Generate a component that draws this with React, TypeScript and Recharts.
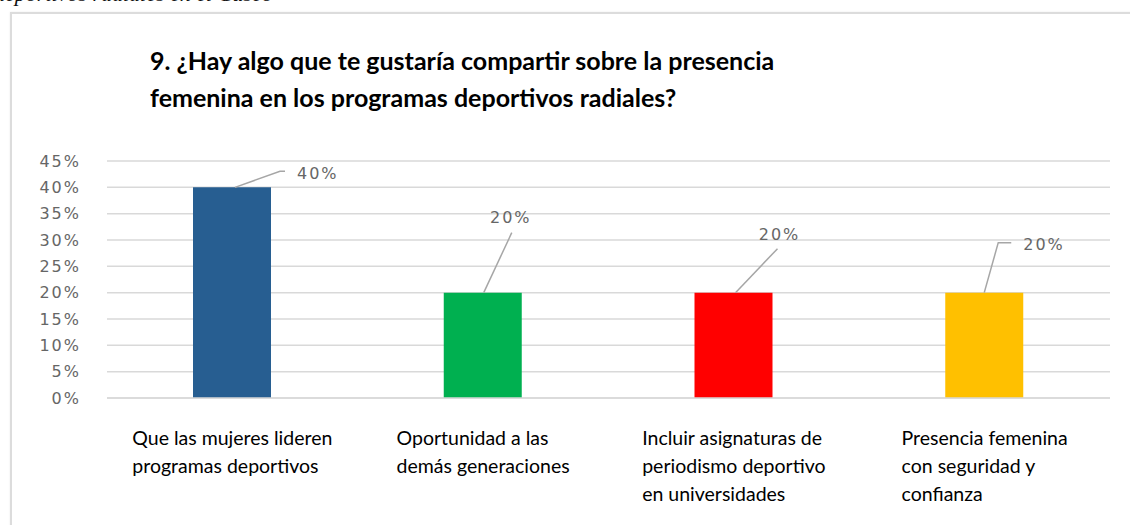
import { BarChart, Bar, XAxis, YAxis, CartesianGrid, Cell, LabelList } from 'recharts';

// categorías (con saltos de línea como en el original)
const categories = [
  'Que las mujeres lideren\nprogramas deportivos',
  'Oportunidad a las\ndemás generaciones',
  'Incluir asignaturas de\nperiodismo deportivo\nen universidades',
  'Presencia femenina\ncon seguridad y\nconfianza',
];
const values = [40, 20, 20, 20];
const barColors = ['#275e91', '#00b050', '#ff0000', '#ffc000'];
const yTicks = [0, 5, 10, 15, 20, 25, 30, 35, 40, 45];

// posición de cada etiqueta con su línea guía, relativa a la parte superior del bar
const labelLayout = [
  { pts: [[3, 0], [48, -16], [53, -16]], dx: 65, dy: -14, anchor: 'start' },
  { pts: [[1, 0], [29, -60]], dx: 28, dy: -75, anchor: 'middle' },
  { pts: [[2, 0], [44, -44]], dx: 46, dy: -58, anchor: 'middle' },
  { pts: [[0, 0], [14, -50], [27, -50]], dx: 39, dy: -48, anchor: 'start' },
];

const data = categories.map((c, i) => ({ name: c, value: values[i] }));

const LABEL_SIZE = 19.5;
let ctx: CanvasRenderingContext2D | null = null;
function measure(text: string) {
  if (!ctx) ctx = document.createElement('canvas').getContext('2d');
  if (!ctx) return text.length * 9;
  ctx.font = `${LABEL_SIZE}px Lato`;
  return ctx.measureText(text).width;
}

function CategoryTick(props: any) {
  const { x, y, payload } = props;
  const lines: string[] = String(payload.value).split('\n');
  const w = Math.max(...lines.map(measure));
  return (
    <g>
      {lines.map((l, i) => (
        <text
          key={i}
          x={x - w / 2}
          y={y + 39 + i * 28}
          fontFamily="Lato"
          fontSize={LABEL_SIZE}
          fill="#000"
          textAnchor="start"
        >
          {l}
        </text>
      ))}
    </g>
  );
}

function LeaderLabel(props: any) {
  const { x, y, width, value, index } = props;
  const cx = x + width / 2;
  const lay = labelLayout[index];
  const pts = lay.pts.map(([px, py]) => `${cx + px},${y + py}`).join(' ');
  return (
    <g>
      <polyline points={pts} fill="none" stroke="#a6a6a6" strokeWidth={1.5} />
      <text
        x={cx + lay.dx}
        y={y + lay.dy}
        dominantBaseline="central"
        textAnchor={lay.anchor}
        fontFamily="DejaVu Sans"
        fontSize={16}
        letterSpacing={2}
        fill="#666"
      >
        {`${value}%`}
      </text>
    </g>
  );
}

export default function App() {
  return (
    <div
      style={{
        position: 'absolute',
        left: 0,
        top: 0,
        width: 1130,
        height: 525,
        overflow: 'hidden',
        background: '#fff',
      }}
    >
      <div
        style={{
          position: 'absolute',
          left: -6,
          top: -19,
          fontFamily: '"Liberation Serif", serif',
          fontStyle: 'italic',
          fontSize: 22,
          color: '#111',
          whiteSpace: 'nowrap',
        }}
      >
        deportivos radiales en el Cusco
      </div>
      <div
        style={{
          position: 'absolute',
          left: 10,
          top: 12,
          width: 1200,
          height: 600,
          border: '2px solid #dcdcdc',
          boxShadow: '0 0 2px rgba(0,0,0,0.08)',
          boxSizing: 'border-box',
        }}
      />
      <div
        style={{
          position: 'absolute',
          left: 150,
          top: 42,
          fontFamily: 'Lato',
          fontWeight: 700,
          fontSize: 25,
          lineHeight: '37px',
          color: '#000',
          whiteSpace: 'nowrap',
        }}
      >
        9. ¿Hay algo que te gustaría compartir sobre la presencia
        <br />
        femenina en los programas deportivos radiales?
      </div>
      <div style={{ position: 'absolute', left: 0, top: 0 }}>
        <BarChart
          width={1130}
          height={525}
          data={data}
          margin={{ top: 161, right: 20, bottom: 27, left: 47 }}
        >
          <CartesianGrid vertical={false} stroke="#d9d9d9" strokeWidth={1.5} />
          <XAxis
            dataKey="name"
            height={100}
            axisLine={{ stroke: '#d9d9d9', strokeWidth: 1.5 }}
            tickLine={false}
            interval={0}
            tick={<CategoryTick />}
          />
          <YAxis
            width={60}
            domain={[0, 45]}
            ticks={yTicks}
            tickFormatter={(v) => `${v}%`}
            axisLine={false}
            tickLine={false}
            tickMargin={20}
            tick={{ fontFamily: 'DejaVu Sans', fontSize: 16, fill: '#666', letterSpacing: 2 }}
          />
          <Bar dataKey="value" barSize={78} isAnimationActive={false}>
            {data.map((_, i) => (
              <Cell key={i} fill={barColors[i]} />
            ))}
            <LabelList dataKey="value" content={<LeaderLabel />} />
          </Bar>
        </BarChart>
      </div>
    </div>
  );
}
